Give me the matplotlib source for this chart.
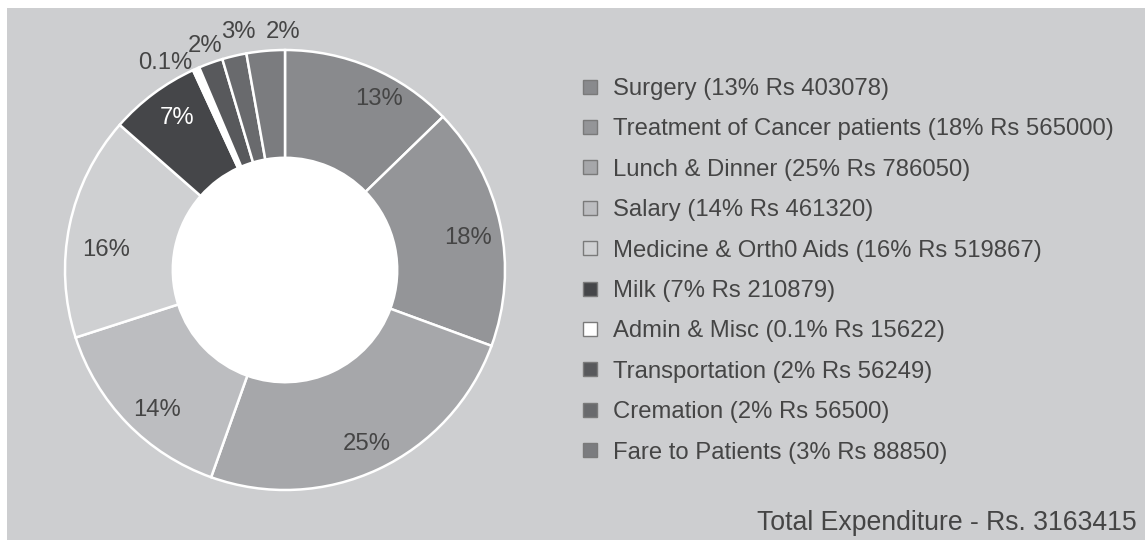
import matplotlib
matplotlib.use("Agg")
import matplotlib.pyplot as plt
from matplotlib.lines import Line2D
from matplotlib.patches import Rectangle, Circle
import numpy as np

plt.rcParams['font.family'] = ['Liberation Sans', 'DejaVu Sans']

categories = ['Surgery', 'Treatment of Cancer patients', 'Lunch & Dinner', 'Salary',
              'Medicine & Orth0 Aids', 'Milk', 'Admin & Misc', 'Transportation',
              'Cremation', 'Fare to Patients']
amounts = [403078, 565000, 786050, 461320, 519867, 210879, 15622, 56249, 56500, 88850]
pct_text = ['13%', '18%', '25%', '14%', '16%', '7%', '0.1%', '2%', '2%', '3%']
# labels as printed on the donut (small slices carry outside labels)
slice_labels = ['13%', '18%', '25%', '14%', '16%', '7%', '0.1%', '2%', '3%', '2%']
total_label = 'Total Expenditure - Rs. 3163415'

colors = ['#898a8d', '#949598', '#a6a7aa', '#bcbdc0', '#cfd0d2',
          '#454649', '#ffffff', '#58595c', '#696a6d', '#7b7c7f']
bg = '#cdced0'
txt = '#454545'
fs = 17.2

fig = plt.figure(figsize=(11.45, 5.4), dpi=100)
fig.patch.set_facecolor('white')
fig.patches.append(Rectangle((7 / 1145, 0), 1, 1 - 8 / 540, transform=fig.transFigure,
                             facecolor=bg, edgecolor='none', zorder=-1))

# donut: centre (285, 270) px, radius 220 px
R = 220
pad = 250
ax = fig.add_axes([(285 - pad) / 1145, (270 - pad) / 540, 2 * pad / 1145, 2 * pad / 540])
ax.axis('off')

wedges, _ = ax.pie(amounts, colors=colors, startangle=90, counterclock=False,
                   radius=1, wedgeprops=dict(width=0.49, edgecolor='white', linewidth=1.8))
ax.add_patch(Circle((0, 0), 0.51, facecolor='white', edgecolor='none', zorder=5))
ax.set_xlim(-pad / R, pad / R)
ax.set_ylim(-pad / R, pad / R)
ax.set_aspect('equal')

fracs = np.array(amounts) / sum(amounts)
mids = np.cumsum(fracs) - fracs / 2
# pixel nudges (right, down) to match the original label placement
nudges = [(20, 3), (-2, 7), (1, 3), (8, 8), (6, 18), (5, 0),
          (-22, 14), (2, 4), (9, -3), (19, 3)]
for i, (m, lab) in enumerate(zip(mids, slice_labels)):
    ang = np.deg2rad(90 - 360 * m)
    r = 1.1 if i >= 6 else 0.86
    col = 'white' if colors[i] == '#454649' else txt
    dx, dy = nudges[i]
    ax.annotate(lab, (r * np.cos(ang), r * np.sin(ang)), xytext=(dx, -dy),
                textcoords='offset pixels', ha='center', va='center',
                fontsize=fs, color=col, zorder=6)

handles = [Line2D([], [], marker='s', linestyle='none', markersize=10,
                  markerfacecolor=c, markeredgecolor='#7a7a7a', markeredgewidth=1)
           for c in colors]
labels = [f'{c} ({p} Rs {a})' for c, p, a in zip(categories, pct_text, amounts)]
leg = fig.legend(handles, labels, loc='upper left', bbox_to_anchor=(578 / 1145, 1 - 78 / 540),
                 frameon=False, fontsize=fs, labelspacing=0.77, handletextpad=0.45,
                 handlelength=1.0, borderpad=0, borderaxespad=0)
for t in leg.get_texts():
    t.set_color(txt)

fig.text(1137 / 1145, 1 - 523 / 540, total_label, ha='right', va='center',
         fontsize=19.2, color=txt)

fig.savefig('out.png', dpi=100, facecolor=fig.get_facecolor())
